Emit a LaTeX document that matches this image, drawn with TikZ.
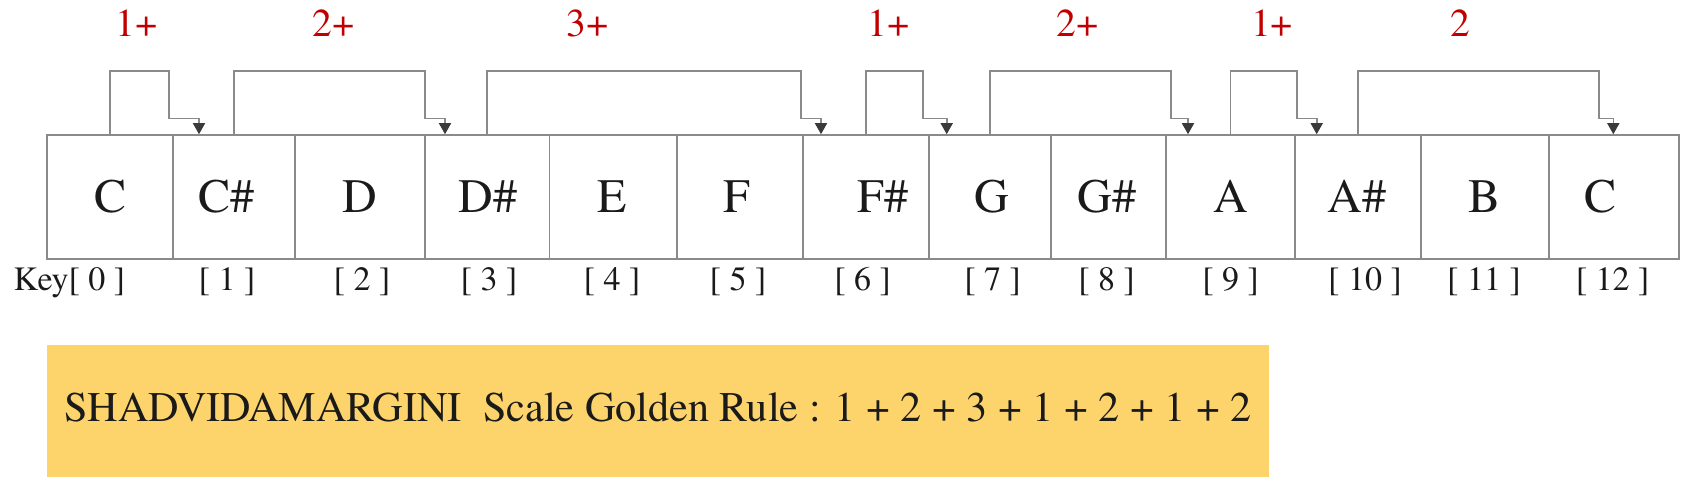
\documentclass[tikz,border=0pt]{standalone}
\usepackage{fontspec}
\setmainfont{texgyretermes}[Extension=.otf,UprightFont=*-regular,BoldFont=*-bold,ItalicFont=*-italic,BoldItalicFont=*-bolditalic]
\usetikzlibrary{arrows.meta,positioning,calc}
\definecolor{boxgray}{HTML}{8A8A8A}
\definecolor{tipgray}{HTML}{3A3A3A}
\definecolor{stepred}{HTML}{C00000}
\definecolor{ruleyellow}{HTML}{FDD46C}
\definecolor{inkblack}{HTML}{1A1A1A}

\begin{document}
\begin{tikzpicture}[x=0.5pt,y=-0.5pt,
	keybox/.style={draw=boxgray,line width=0.8pt,minimum height=61.85pt,inner sep=0pt},
	note/.style={anchor=base,inner sep=0pt,text=inkblack,font=\fontsize{24}{28}\selectfont},
	keyidx/.style={anchor=base,inner sep=0pt,text=inkblack,font=\fontsize{17}{20}\selectfont},
	steplabel/.style={anchor=base,inner sep=0pt,text=stepred,font=\fontsize{19.75}{22}\selectfont},
	jump/.style={draw=boxgray,line width=0.8pt,-{Triangle[width=6pt,length=5.5pt,color=tipgray]}},
	rulebox/.style={fill=ruleyellow,text=inkblack,inner sep=0pt,minimum width=611pt,minimum height=65.85pt,text depth=3.4pt,font=\fontsize{21.1}{25}\selectfont}]
		\useasboundingbox (0,0) rectangle (1692,494);
		% keys
		\foreach \i/\l/\r/\tx/\nm in {0/46.7/172.7/111/C,1/172.7/295/226.7/C\#,2/295/425/360/D,
			3/425/549.3/488/D\#,4/549.3/676.7/612/E,5/676.7/802.7/737/F,6/802.7/929/882.7/F\#,
			7/929/1051/992/G,8/1051/1165.7/1107/G\#,9/1165.7/1295/1230.7/A,10/1295/1420.7/1356.7/A\#,
			11/1420.7/1549/1484/B,12/1549/1679/1600.7/C}{
			\pgfmathsetmacro\kw{(\r-\l)*0.5}
			\node[keybox,minimum width=\kw pt] (k\i) at ({(\l+\r)/2},196.85) {};
			\node[note] (n\i) at (\tx,212) {\nm};
		}
		% indices
		\node[keyidx] (i0) at (69.5,290) {Key[ 0 ]};
		\foreach \i/\ix in {1/227,2/362,3/489,4/612,5/738,6/862.7,7/992.7,8/1106.7,
			9/1230.7,10/1365,11/1484,12/1612.7}
			\node[keyidx] (i\i) at (\ix,290) {[ \i\ ]};
		% steps
		\foreach \s/\t/\bx/\tx in {0/1/169/199,1/3/425/445,3/6/801/821,6/7/923/946.7,
			7/9/1170.7/1188,9/10/1296.7/1316.7,10/12/1599/1613.3}
			\draw[jump] (k\s.north) |- (\bx,70.7) |- (\tx,118.3) -- (\tx,118.3 |- k\t.north);
		\foreach \x/\lab [count=\j] in {137/1+,334/2+,588/3+,889/1+,1078/2+,1272/1+,1460/2}
			\node[steplabel] (s\j) at (\x,36.7) {\lab};
		% rule
		\node[rulebox] (rule) at (658,410.85) {SHADVIDAMARGINI\ \ Scale Golden Rule : 1 + 2 + 3 + 1 + 2 + 1 + 2};
\end{tikzpicture}
\end{document}
